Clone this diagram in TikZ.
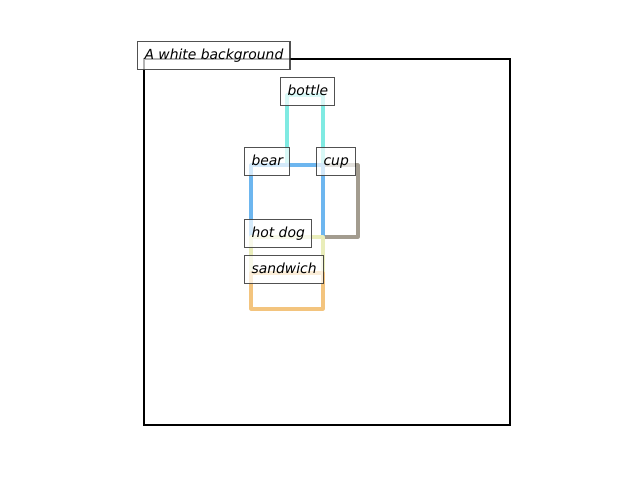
\documentclass[tikz,border=0pt]{standalone}
\usepackage{fontspec}
\setmainfont{DejaVu Sans}
\usetikzlibrary{positioning}
\definecolor{bottlecol}{HTML}{7FEAE2}
\definecolor{cupcol}{HTML}{A39C8F}
\definecolor{bearcol}{HTML}{6DB6EF}
\definecolor{hotdogcol}{HTML}{E9EDBA}
\definecolor{sandwichcol}{HTML}{F3C47E}
\tikzstyle{frame} = [line width=1.6pt, draw=black]
\tikzstyle{boxline} = [line width=2.2pt, line join=round]
\tikzstyle{lbl} = [anchor=base west, xshift=-4.8pt, draw=black!85, draw opacity=0.8, line width=0.8pt, fill=white, fill opacity=0.7, text opacity=1, inner xsep=4.8pt, inner ysep=5.2pt, text height=7.6pt, text depth=2.4pt, font=\fontsize{10}{12}\selectfont\itshape]

\begin{document}
\begin{tikzpicture}[x=0.72pt, y=-0.72pt]
		\useasboundingbox (0,0) rectangle (640,480);
		\draw [frame] (144,59) rectangle (510,425);
		\draw [boxline, bottlecol] (287,95) rectangle (323,165);
		\draw [boxline, cupcol] (323,165) rectangle (358,237);
		\draw [boxline, bearcol] (251,165) rectangle (323,237);
		\draw [boxline, hotdogcol] (251,237) rectangle (323,273);
		\draw [boxline, sandwichcol] (251,273) rectangle (323,309);
		\node (background) [lbl] at (144,59) {A white background};
		\node (bottle) [lbl] at (287,95) {bottle};
		\node (bear) [lbl] at (251,165) {bear};
		\node (cup) [lbl] at (323,165) {cup};
		\node (hotdog) [lbl] at (251,237) {hot dog};
		\node (sandwich) [lbl] at (251,273) {sandwich};
\end{tikzpicture}
\end{document}
